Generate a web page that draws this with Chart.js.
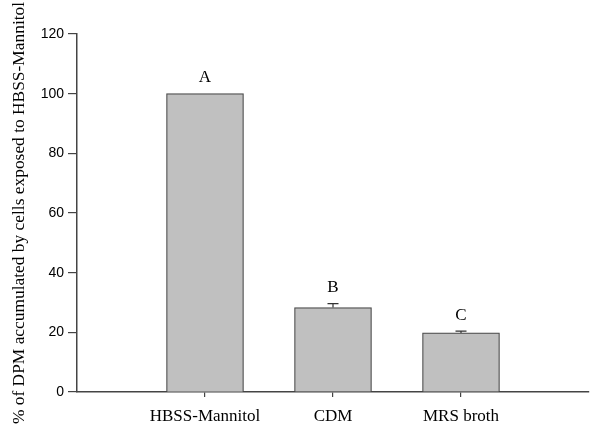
<!DOCTYPE html>
<html>
<head>
<meta charset="utf-8">
<script src="https://cdn.jsdelivr.net/npm/chart.js@4"></script>
<style>
html,body{margin:0;padding:0;background:#fff;}
#wrap{width:600px;height:437px;position:relative;}
</style>
</head>
<body>
<div id="wrap"><canvas id="c" width="600" height="437"></canvas></div>
<script>
const categories = ['HBSS-Mannitol', 'CDM', 'MRS broth'];
const values = [100, 28.3, 19.8];
const errors = [0, 1.3, 0.6];
const letters = ['A', 'B', 'C'];
const yTicks = [0, 20, 40, 60, 80, 100, 120];
const yTitle = '% of DPM accumulated by cells exposed to HBSS-Mannitol';

const labels = [''].concat(categories, ['']);
const data = [null].concat(values, [null]);

const annot = {
  id: 'annot',
  afterDatasetsDraw(chart) {
    const ctx = chart.ctx;
    const meta = chart.getDatasetMeta(0);
    const ys = chart.scales.y;
    ctx.save();
    for (let i = 0; i < categories.length; i++) {
      const el = meta.data[i + 1];
      const x = el.x;
      const top = ys.getPixelForValue(values[i]);
      const et = ys.getPixelForValue(values[i] + errors[i]);
      if (errors[i] > 0) {
        ctx.strokeStyle = '#333';
        ctx.lineWidth = 1.2;
        ctx.beginPath();
        ctx.moveTo(x, top);
        ctx.lineTo(x, et);
        ctx.moveTo(x - 5.5, et);
        ctx.lineTo(x + 5.5, et);
        ctx.stroke();
      }
      ctx.fillStyle = '#000';
      ctx.font = '17px "Liberation Serif", "Times New Roman", serif';
      ctx.textAlign = 'center';
      ctx.textBaseline = 'alphabetic';
      ctx.fillText(letters[i], x, et - 11.5);
    }
    ctx.restore();
  }
};

new Chart(document.getElementById('c'), {
  type: 'bar',
  data: {
    labels: labels,
    datasets: [{
      data: data,
      backgroundColor: '#c0c0c0',
      borderColor: '#4a4a4a',
      borderWidth: 1.2,
      borderSkipped: 'bottom',
      barThickness: 77
    }]
  },
  options: {
    responsive: false,
    animation: false,
    devicePixelRatio: 1,
    layout: { padding: { left: 0, right: 11, top: 34, bottom: 0 } },
    plugins: { legend: { display: false }, tooltip: { enabled: false } },
    scales: {
      x: {
        type: 'category',
        offset: false,
        grid: {
          display: true,
          offset: false,
          drawOnChartArea: false,
          tickLength: 5,
          tickColor: (c) => (c.tick && c.tick.label === '') ? 'rgba(0,0,0,0)' : '#444',
          lineWidth: 1.2
        },
        border: { display: true, color: '#444', width: 1.5 },
        ticks: {
          autoSkip: false,
          maxRotation: 0,
          padding: 9,
          color: '#000',
          font: { family: '"Liberation Serif", "Times New Roman", serif', size: 17 }
        },
        afterFit(s) { s.height = 45; }
      },
      y: {
        min: 0,
        max: 120,
        afterBuildTicks(s) { s.ticks = yTicks.map(v => ({ value: v })); },
        grid: {
          display: true,
          drawOnChartArea: false,
          tickLength: 9,
          tickColor: '#444',
          lineWidth: 1.2
        },
        border: { display: true, color: '#444', width: 1.5 },
        ticks: {
          padding: 4,
          color: '#000',
          font: { family: '"Liberation Sans", Arial, sans-serif', size: 14 }
        },
        title: {
          display: true,
          text: yTitle,
          color: '#000',
          padding: { top: 9, bottom: 0 },
          font: { family: '"Liberation Serif", "Times New Roman", serif', size: 17.4 }
        },
        afterFit(s) { s.width = 77; }
      }
    }
  },
  plugins: [annot]
});
</script>
</body>
</html>
